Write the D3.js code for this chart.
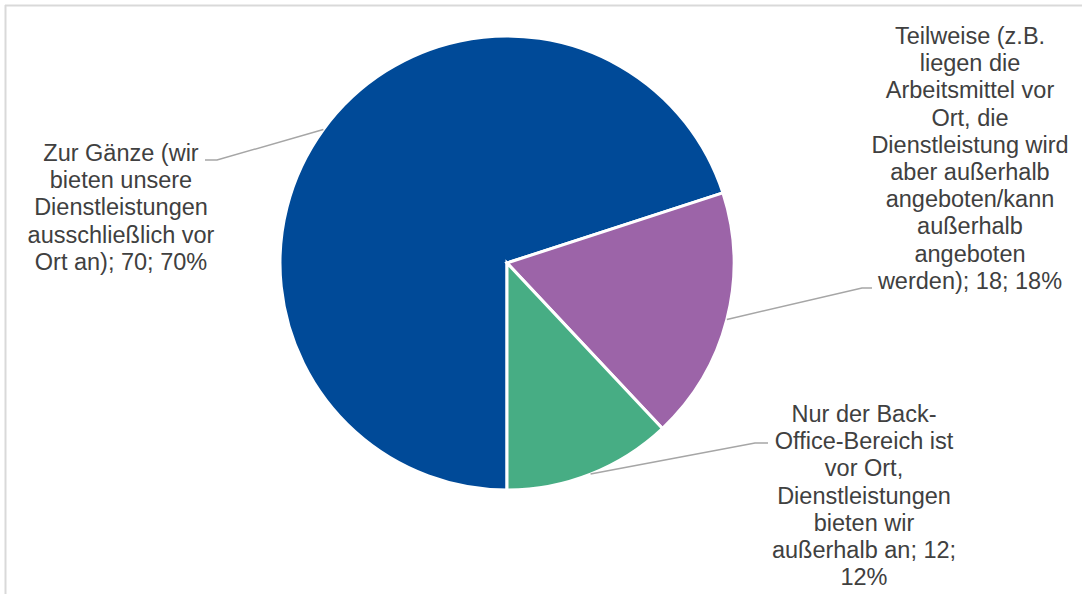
<!DOCTYPE html>
<html>
<head>
<meta charset="utf-8">
<script src="https://cdn.jsdelivr.net/npm/d3@7"></script>
<style>
  html, body { margin: 0; padding: 0; background: #ffffff; }
  svg { display: block; }
</style>
</head>
<body>
<svg id="chart" width="1091" height="594"></svg>
<script>
// Slice data: categories, counts and shares
const categories = [
  "Zur Gänze (wir bieten unsere Dienstleistungen ausschließlich vor Ort an)",
  "Teilweise (z.B. liegen die Arbeitsmittel vor Ort, die Dienstleistung wird aber außerhalb angeboten/kann außerhalb angeboten werden)",
  "Nur der Back-Office-Bereich ist vor Ort, Dienstleistungen bieten wir außerhalb an"
];
const counts = [70, 18, 12];
const percents = ["70%", "18%", "12%"];

// Label text broken into lines as it is typeset beside each slice
const labelLines = [
  ["Zur Gänze (wir", "bieten unsere", "Dienstleistungen", "ausschließlich vor", "Ort an); 70; 70%"],
  ["Teilweise (z.B.", "liegen die", "Arbeitsmittel vor", "Ort, die", "Dienstleistung wird",
   "aber außerhalb", "angeboten/kann", "außerhalb", "angeboten", "werden); 18; 18%"],
  ["Nur der Back-", "Office-Bereich ist", "vor Ort,", "Dienstleistungen", "bieten wir",
   "außerhalb an; 12;", "12%"]
];

const colors = ["#004a98", "#9c64a8", "#47ad84"];

const svg = d3.select("#chart");
const W = 1091, H = 594;

// chart area frame (top and left edges visible)
svg.append("line").attr("x1", 5).attr("y1", 5.5).attr("x2", 1082).attr("y2", 5.5)
  .attr("stroke", "#d9d9d9").attr("stroke-width", 2);
svg.append("line").attr("x1", 5.5).attr("y1", 5).attr("x2", 5.5).attr("y2", H)
  .attr("stroke", "#d9d9d9").attr("stroke-width", 2);

const cx = 507, cy = 263, R = 227;

const pie = d3.pie()
  .value(d => d)
  .sort(null)
  .startAngle(Math.PI)
  .endAngle(3 * Math.PI);

const arcs = pie(counts);
const arc = d3.arc().innerRadius(0).outerRadius(R);

const g = svg.append("g").attr("transform", `translate(${cx},${cy})`);

g.selectAll("path.slice")
  .data(arcs)
  .join("path")
  .attr("class", "slice")
  .attr("d", arc)
  .attr("fill", (d, i) => colors[i])
  .attr("stroke", "#ffffff")
  .attr("stroke-width", 3)
  .attr("stroke-linejoin", "miter");

// label placement: block centre x, first baseline, and leader elbow/end points
const labelPos = [
  { x: 121, y: 161, elbow: [217, 160], end: [205, 160] },
  { x: 970, y: 44,  elbow: [862, 288], end: [872, 288] },
  { x: 864, y: 422, elbow: [755, 443], end: [768, 443] }
];
const lineStep = 27.2;

// leader lines from the slice rim (mid-angle) to the label
arcs.forEach((d, i) => {
  const mid = (d.startAngle + d.endAngle) / 2;
  const px = cx + R * Math.sin(mid);
  const py = cy - R * Math.cos(mid);
  const p = labelPos[i];
  svg.append("polyline")
    .attr("points", [[px, py], p.elbow, p.end].map(q => q.join(",")).join(" "))
    .attr("fill", "none")
    .attr("stroke", "#a6a6a6")
    .attr("stroke-width", 1.5);
});

// data labels
labelLines.forEach((lines, i) => {
  const p = labelPos[i];
  const t = svg.append("text")
    .attr("text-anchor", "middle")
    .attr("font-family", "'Liberation Sans', Arial, sans-serif")
    .attr("font-size", 23.5)
    .attr("fill", "#404040");
  lines.forEach((s, k) => {
    t.append("tspan").attr("x", p.x).attr("y", p.y + k * lineStep).text(s);
  });
});
</script>
</body>
</html>
